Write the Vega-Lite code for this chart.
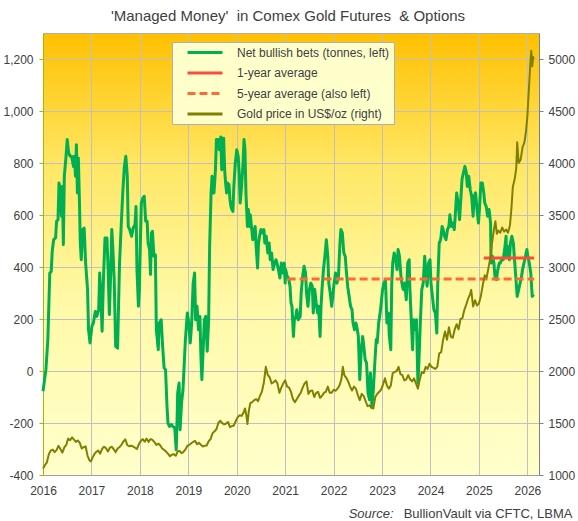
{
  "$schema": "https://vega.github.io/schema/vega-lite/v6.json",
  "width": 496,
  "height": 442,
  "autosize": {"type": "none"},
  "padding": {"left": 43, "top": 33, "right": 39, "bottom": 46},
  "title": {
    "text": "'Managed Money'\u00a0 in Comex Gold Futures\u00a0 & Options",
    "fontSize": 15,
    "fontWeight": "normal",
    "color": "#404040",
    "anchor": "middle",
    "offset": 9,
    "dx": -3
  },
  "datasets": {
    "bets": [
      {"t": 2016.00, "v": -78}, {"t": 2016.06, "v": 5}, {"t": 2016.10, "v": 121}, {"t": 2016.14, "v": 377},
      {"t": 2016.17, "v": 383}, {"t": 2016.19, "v": 460}, {"t": 2016.22, "v": 505}, {"t": 2016.26, "v": 512},
      {"t": 2016.28, "v": 576}, {"t": 2016.31, "v": 582}, {"t": 2016.33, "v": 723}, {"t": 2016.36, "v": 697},
      {"t": 2016.38, "v": 595}, {"t": 2016.40, "v": 710}, {"t": 2016.42, "v": 486}, {"t": 2016.44, "v": 749},
      {"t": 2016.47, "v": 813}, {"t": 2016.50, "v": 890}, {"t": 2016.53, "v": 838}, {"t": 2016.56, "v": 826},
      {"t": 2016.59, "v": 826}, {"t": 2016.63, "v": 787}, {"t": 2016.65, "v": 826}, {"t": 2016.67, "v": 749},
      {"t": 2016.69, "v": 870}, {"t": 2016.71, "v": 685}, {"t": 2016.73, "v": 819}, {"t": 2016.75, "v": 672},
      {"t": 2016.77, "v": 492}, {"t": 2016.79, "v": 428}, {"t": 2016.82, "v": 544}, {"t": 2016.85, "v": 550},
      {"t": 2016.88, "v": 415}, {"t": 2016.92, "v": 313}, {"t": 2016.94, "v": 159}, {"t": 2016.97, "v": 108},
      {"t": 2017.01, "v": 172}, {"t": 2017.04, "v": 185}, {"t": 2017.08, "v": 229}, {"t": 2017.11, "v": 210},
      {"t": 2017.15, "v": 236}, {"t": 2017.17, "v": 377}, {"t": 2017.19, "v": 313}, {"t": 2017.22, "v": 153},
      {"t": 2017.25, "v": 364}, {"t": 2017.28, "v": 512}, {"t": 2017.32, "v": 512}, {"t": 2017.34, "v": 415},
      {"t": 2017.37, "v": 217}, {"t": 2017.40, "v": 390}, {"t": 2017.42, "v": 544}, {"t": 2017.44, "v": 479},
      {"t": 2017.47, "v": 351}, {"t": 2017.50, "v": 95}, {"t": 2017.54, "v": 88}, {"t": 2017.58, "v": 415},
      {"t": 2017.62, "v": 582}, {"t": 2017.65, "v": 697}, {"t": 2017.68, "v": 787}, {"t": 2017.71, "v": 826},
      {"t": 2017.74, "v": 749}, {"t": 2017.76, "v": 556}, {"t": 2017.79, "v": 544}, {"t": 2017.83, "v": 518},
      {"t": 2017.86, "v": 550}, {"t": 2017.90, "v": 563}, {"t": 2017.92, "v": 633}, {"t": 2017.94, "v": 390},
      {"t": 2017.97, "v": 249}, {"t": 2017.99, "v": 313}, {"t": 2018.01, "v": 492}, {"t": 2018.03, "v": 646},
      {"t": 2018.06, "v": 665}, {"t": 2018.09, "v": 672}, {"t": 2018.12, "v": 576}, {"t": 2018.15, "v": 576},
      {"t": 2018.17, "v": 492}, {"t": 2018.20, "v": 467}, {"t": 2018.22, "v": 371}, {"t": 2018.24, "v": 531},
      {"t": 2018.26, "v": 537}, {"t": 2018.29, "v": 441}, {"t": 2018.32, "v": 447}, {"t": 2018.34, "v": 159},
      {"t": 2018.38, "v": 82}, {"t": 2018.40, "v": 185}, {"t": 2018.44, "v": 197}, {"t": 2018.47, "v": 95},
      {"t": 2018.50, "v": 12}, {"t": 2018.53, "v": 5}, {"t": 2018.56, "v": -136}, {"t": 2018.58, "v": -200},
      {"t": 2018.61, "v": -213}, {"t": 2018.65, "v": -206}, {"t": 2018.68, "v": -213}, {"t": 2018.72, "v": -219},
      {"t": 2018.75, "v": -303}, {"t": 2018.77, "v": -174}, {"t": 2018.78, "v": -85}, {"t": 2018.81, "v": -46},
      {"t": 2018.83, "v": -226}, {"t": 2018.86, "v": -123}, {"t": 2018.89, "v": -72}, {"t": 2018.91, "v": 5},
      {"t": 2018.94, "v": 121}, {"t": 2018.98, "v": 223}, {"t": 2019.01, "v": 185}, {"t": 2019.04, "v": 108},
      {"t": 2019.07, "v": 185}, {"t": 2019.10, "v": 338}, {"t": 2019.13, "v": 377}, {"t": 2019.15, "v": 197},
      {"t": 2019.18, "v": 249}, {"t": 2019.21, "v": 159}, {"t": 2019.24, "v": 210}, {"t": 2019.26, "v": 56},
      {"t": 2019.28, "v": -33}, {"t": 2019.31, "v": 95}, {"t": 2019.33, "v": 197}, {"t": 2019.36, "v": 210},
      {"t": 2019.39, "v": 76}, {"t": 2019.42, "v": 197}, {"t": 2019.44, "v": 479}, {"t": 2019.47, "v": 685},
      {"t": 2019.49, "v": 749}, {"t": 2019.51, "v": 685}, {"t": 2019.53, "v": 685}, {"t": 2019.56, "v": 774},
      {"t": 2019.58, "v": 890}, {"t": 2019.62, "v": 890}, {"t": 2019.64, "v": 851}, {"t": 2019.67, "v": 900},
      {"t": 2019.69, "v": 774}, {"t": 2019.71, "v": 895}, {"t": 2019.73, "v": 895}, {"t": 2019.75, "v": 774},
      {"t": 2019.77, "v": 723}, {"t": 2019.79, "v": 685}, {"t": 2019.81, "v": 723}, {"t": 2019.84, "v": 717},
      {"t": 2019.86, "v": 659}, {"t": 2019.88, "v": 633}, {"t": 2019.90, "v": 621}, {"t": 2019.92, "v": 614},
      {"t": 2019.94, "v": 710}, {"t": 2019.97, "v": 800}, {"t": 2020.00, "v": 851}, {"t": 2020.03, "v": 826},
      {"t": 2020.05, "v": 762}, {"t": 2020.07, "v": 646}, {"t": 2020.10, "v": 710}, {"t": 2020.13, "v": 800},
      {"t": 2020.15, "v": 890}, {"t": 2020.17, "v": 851}, {"t": 2020.19, "v": 685}, {"t": 2020.22, "v": 556},
      {"t": 2020.24, "v": 621}, {"t": 2020.26, "v": 556}, {"t": 2020.28, "v": 601}, {"t": 2020.31, "v": 544},
      {"t": 2020.33, "v": 505}, {"t": 2020.35, "v": 531}, {"t": 2020.38, "v": 556}, {"t": 2020.40, "v": 479},
      {"t": 2020.43, "v": 396}, {"t": 2020.45, "v": 492}, {"t": 2020.47, "v": 518}, {"t": 2020.50, "v": 544},
      {"t": 2020.53, "v": 531}, {"t": 2020.56, "v": 544}, {"t": 2020.58, "v": 492}, {"t": 2020.61, "v": 518},
      {"t": 2020.64, "v": 454}, {"t": 2020.67, "v": 492}, {"t": 2020.69, "v": 428}, {"t": 2020.72, "v": 454},
      {"t": 2020.75, "v": 390}, {"t": 2020.78, "v": 415}, {"t": 2020.81, "v": 428}, {"t": 2020.83, "v": 415},
      {"t": 2020.86, "v": 390}, {"t": 2020.89, "v": 358}, {"t": 2020.92, "v": 415}, {"t": 2020.94, "v": 377},
      {"t": 2020.98, "v": 415}, {"t": 2021.00, "v": 338}, {"t": 2021.01, "v": 390}, {"t": 2021.04, "v": 364},
      {"t": 2021.07, "v": 358}, {"t": 2021.10, "v": 326}, {"t": 2021.12, "v": 262}, {"t": 2021.14, "v": 249},
      {"t": 2021.17, "v": 133}, {"t": 2021.19, "v": 197}, {"t": 2021.22, "v": 210}, {"t": 2021.24, "v": 236},
      {"t": 2021.27, "v": 197}, {"t": 2021.31, "v": 210}, {"t": 2021.33, "v": 300}, {"t": 2021.36, "v": 364},
      {"t": 2021.39, "v": 403}, {"t": 2021.42, "v": 377}, {"t": 2021.44, "v": 300}, {"t": 2021.47, "v": 249},
      {"t": 2021.50, "v": 313}, {"t": 2021.53, "v": 338}, {"t": 2021.56, "v": 326}, {"t": 2021.58, "v": 223},
      {"t": 2021.61, "v": 313}, {"t": 2021.64, "v": 262}, {"t": 2021.67, "v": 223}, {"t": 2021.69, "v": 249},
      {"t": 2021.72, "v": 133}, {"t": 2021.74, "v": 249}, {"t": 2021.76, "v": 313}, {"t": 2021.79, "v": 390},
      {"t": 2021.82, "v": 441}, {"t": 2021.85, "v": 505}, {"t": 2021.88, "v": 441}, {"t": 2021.90, "v": 338},
      {"t": 2021.93, "v": 300}, {"t": 2021.96, "v": 249}, {"t": 2021.99, "v": 300}, {"t": 2022.01, "v": 338},
      {"t": 2022.04, "v": 377}, {"t": 2022.07, "v": 338}, {"t": 2022.10, "v": 364}, {"t": 2022.13, "v": 492},
      {"t": 2022.15, "v": 544}, {"t": 2022.18, "v": 531}, {"t": 2022.21, "v": 454}, {"t": 2022.24, "v": 441},
      {"t": 2022.26, "v": 390}, {"t": 2022.29, "v": 326}, {"t": 2022.32, "v": 287}, {"t": 2022.35, "v": 249},
      {"t": 2022.38, "v": 236}, {"t": 2022.40, "v": 185}, {"t": 2022.43, "v": 159}, {"t": 2022.46, "v": 185},
      {"t": 2022.49, "v": 159}, {"t": 2022.51, "v": 133}, {"t": 2022.54, "v": -33}, {"t": 2022.57, "v": 82},
      {"t": 2022.60, "v": 133}, {"t": 2022.63, "v": 82}, {"t": 2022.65, "v": 44}, {"t": 2022.68, "v": 31},
      {"t": 2022.71, "v": -85}, {"t": 2022.74, "v": -110}, {"t": 2022.76, "v": -8}, {"t": 2022.79, "v": -136},
      {"t": 2022.82, "v": -72}, {"t": 2022.85, "v": 31}, {"t": 2022.88, "v": 121}, {"t": 2022.90, "v": 108},
      {"t": 2022.93, "v": 185}, {"t": 2022.96, "v": 223}, {"t": 2022.99, "v": 274}, {"t": 2023.01, "v": 313},
      {"t": 2023.04, "v": 338}, {"t": 2023.07, "v": 351}, {"t": 2023.10, "v": 185}, {"t": 2023.13, "v": 223},
      {"t": 2023.15, "v": 133}, {"t": 2023.18, "v": 82}, {"t": 2023.20, "v": 338}, {"t": 2023.22, "v": 415},
      {"t": 2023.25, "v": 454}, {"t": 2023.28, "v": 428}, {"t": 2023.31, "v": 390}, {"t": 2023.33, "v": 467},
      {"t": 2023.36, "v": 441}, {"t": 2023.39, "v": 364}, {"t": 2023.42, "v": 326}, {"t": 2023.44, "v": 313},
      {"t": 2023.47, "v": 338}, {"t": 2023.50, "v": 274}, {"t": 2023.53, "v": 415}, {"t": 2023.56, "v": 428},
      {"t": 2023.57, "v": 338}, {"t": 2023.60, "v": 210}, {"t": 2023.63, "v": 82}, {"t": 2023.65, "v": 197},
      {"t": 2023.68, "v": 159}, {"t": 2023.71, "v": 197}, {"t": 2023.74, "v": -46}, {"t": 2023.76, "v": 31},
      {"t": 2023.79, "v": 185}, {"t": 2023.82, "v": 313}, {"t": 2023.85, "v": 338}, {"t": 2023.88, "v": 441},
      {"t": 2023.90, "v": 390}, {"t": 2023.93, "v": 326}, {"t": 2023.96, "v": 415}, {"t": 2023.99, "v": 428},
      {"t": 2024.01, "v": 338}, {"t": 2024.04, "v": 287}, {"t": 2024.07, "v": 236}, {"t": 2024.10, "v": 223},
      {"t": 2024.13, "v": 146}, {"t": 2024.15, "v": 338}, {"t": 2024.18, "v": 492}, {"t": 2024.21, "v": 505},
      {"t": 2024.24, "v": 556}, {"t": 2024.26, "v": 544}, {"t": 2024.29, "v": 518}, {"t": 2024.32, "v": 505},
      {"t": 2024.35, "v": 544}, {"t": 2024.38, "v": 556}, {"t": 2024.40, "v": 601}, {"t": 2024.43, "v": 556},
      {"t": 2024.46, "v": 569}, {"t": 2024.49, "v": 544}, {"t": 2024.51, "v": 595}, {"t": 2024.54, "v": 685},
      {"t": 2024.57, "v": 646}, {"t": 2024.60, "v": 582}, {"t": 2024.63, "v": 672}, {"t": 2024.65, "v": 736},
      {"t": 2024.68, "v": 762}, {"t": 2024.71, "v": 787}, {"t": 2024.74, "v": 762}, {"t": 2024.76, "v": 710},
      {"t": 2024.79, "v": 749}, {"t": 2024.82, "v": 697}, {"t": 2024.85, "v": 672}, {"t": 2024.88, "v": 595},
      {"t": 2024.90, "v": 672}, {"t": 2024.93, "v": 685}, {"t": 2024.96, "v": 621}, {"t": 2024.99, "v": 569},
      {"t": 2025.01, "v": 621}, {"t": 2025.04, "v": 723}, {"t": 2025.07, "v": 723}, {"t": 2025.10, "v": 685},
      {"t": 2025.12, "v": 646}, {"t": 2025.15, "v": 633}, {"t": 2025.18, "v": 595}, {"t": 2025.21, "v": 621},
      {"t": 2025.24, "v": 569}, {"t": 2025.25, "v": 415}, {"t": 2025.28, "v": 441}, {"t": 2025.31, "v": 415},
      {"t": 2025.33, "v": 364}, {"t": 2025.36, "v": 351}, {"t": 2025.39, "v": 390}, {"t": 2025.42, "v": 415},
      {"t": 2025.44, "v": 415}, {"t": 2025.47, "v": 428}, {"t": 2025.50, "v": 428}, {"t": 2025.53, "v": 467},
      {"t": 2025.56, "v": 518}, {"t": 2025.57, "v": 441}, {"t": 2025.60, "v": 479}, {"t": 2025.63, "v": 428},
      {"t": 2025.65, "v": 492}, {"t": 2025.68, "v": 518}, {"t": 2025.71, "v": 492}, {"t": 2025.74, "v": 415},
      {"t": 2025.76, "v": 364}, {"t": 2025.79, "v": 287}, {"t": 2025.82, "v": 313}, {"t": 2025.85, "v": 338},
      {"t": 2025.88, "v": 364}, {"t": 2025.90, "v": 390}, {"t": 2025.93, "v": 415}, {"t": 2025.96, "v": 441},
      {"t": 2025.99, "v": 467}, {"t": 2026.01, "v": 441}, {"t": 2026.04, "v": 415}, {"t": 2026.07, "v": 377},
      {"t": 2026.10, "v": 287}, {"t": 2026.13, "v": 294}
    ],
    "gold": [
      {"t": 2016.00, "p": 1062}, {"t": 2016.04, "p": 1095}, {"t": 2016.08, "p": 1120}, {"t": 2016.12, "p": 1200},
      {"t": 2016.16, "p": 1235}, {"t": 2016.20, "p": 1245}, {"t": 2016.24, "p": 1220}, {"t": 2016.28, "p": 1240},
      {"t": 2016.32, "p": 1280}, {"t": 2016.36, "p": 1250}, {"t": 2016.40, "p": 1215}, {"t": 2016.44, "p": 1265},
      {"t": 2016.48, "p": 1290}, {"t": 2016.52, "p": 1350}, {"t": 2016.56, "p": 1335}, {"t": 2016.60, "p": 1362},
      {"t": 2016.64, "p": 1340}, {"t": 2016.68, "p": 1318}, {"t": 2016.72, "p": 1332}, {"t": 2016.76, "p": 1308},
      {"t": 2016.80, "p": 1255}, {"t": 2016.84, "p": 1268}, {"t": 2016.88, "p": 1275}, {"t": 2016.92, "p": 1185},
      {"t": 2016.96, "p": 1140}, {"t": 2016.99, "p": 1130}, {"t": 2017.02, "p": 1165}, {"t": 2017.06, "p": 1200},
      {"t": 2017.10, "p": 1222}, {"t": 2017.14, "p": 1236}, {"t": 2017.18, "p": 1205}, {"t": 2017.22, "p": 1250},
      {"t": 2017.26, "p": 1272}, {"t": 2017.30, "p": 1258}, {"t": 2017.34, "p": 1226}, {"t": 2017.38, "p": 1262},
      {"t": 2017.42, "p": 1272}, {"t": 2017.46, "p": 1248}, {"t": 2017.50, "p": 1220}, {"t": 2017.54, "p": 1255},
      {"t": 2017.58, "p": 1268}, {"t": 2017.62, "p": 1290}, {"t": 2017.66, "p": 1322}, {"t": 2017.70, "p": 1342},
      {"t": 2017.74, "p": 1288}, {"t": 2017.78, "p": 1276}, {"t": 2017.82, "p": 1282}, {"t": 2017.86, "p": 1274},
      {"t": 2017.90, "p": 1262}, {"t": 2017.94, "p": 1250}, {"t": 2017.98, "p": 1298}, {"t": 2018.02, "p": 1328},
      {"t": 2018.06, "p": 1345}, {"t": 2018.10, "p": 1320}, {"t": 2018.14, "p": 1350}, {"t": 2018.18, "p": 1318},
      {"t": 2018.22, "p": 1345}, {"t": 2018.26, "p": 1338}, {"t": 2018.30, "p": 1316}, {"t": 2018.34, "p": 1290},
      {"t": 2018.38, "p": 1302}, {"t": 2018.42, "p": 1285}, {"t": 2018.46, "p": 1255}, {"t": 2018.50, "p": 1242},
      {"t": 2018.54, "p": 1225}, {"t": 2018.58, "p": 1205}, {"t": 2018.62, "p": 1180}, {"t": 2018.66, "p": 1195},
      {"t": 2018.70, "p": 1200}, {"t": 2018.74, "p": 1185}, {"t": 2018.78, "p": 1226}, {"t": 2018.82, "p": 1232},
      {"t": 2018.86, "p": 1210}, {"t": 2018.90, "p": 1222}, {"t": 2018.94, "p": 1246}, {"t": 2018.98, "p": 1280},
      {"t": 2019.02, "p": 1290}, {"t": 2019.06, "p": 1305}, {"t": 2019.10, "p": 1318}, {"t": 2019.14, "p": 1328},
      {"t": 2019.18, "p": 1295}, {"t": 2019.22, "p": 1310}, {"t": 2019.26, "p": 1290}, {"t": 2019.30, "p": 1274},
      {"t": 2019.34, "p": 1282}, {"t": 2019.38, "p": 1284}, {"t": 2019.42, "p": 1325}, {"t": 2019.46, "p": 1345},
      {"t": 2019.50, "p": 1402}, {"t": 2019.54, "p": 1420}, {"t": 2019.58, "p": 1440}, {"t": 2019.62, "p": 1500},
      {"t": 2019.66, "p": 1522}, {"t": 2019.70, "p": 1500}, {"t": 2019.74, "p": 1486}, {"t": 2019.78, "p": 1494},
      {"t": 2019.82, "p": 1510}, {"t": 2019.86, "p": 1460}, {"t": 2019.90, "p": 1470}, {"t": 2019.94, "p": 1476},
      {"t": 2019.98, "p": 1520}, {"t": 2020.02, "p": 1555}, {"t": 2020.06, "p": 1575}, {"t": 2020.10, "p": 1568},
      {"t": 2020.14, "p": 1600}, {"t": 2020.17, "p": 1640}, {"t": 2020.20, "p": 1570}, {"t": 2020.22, "p": 1490},
      {"t": 2020.25, "p": 1620}, {"t": 2020.28, "p": 1690}, {"t": 2020.32, "p": 1702}, {"t": 2020.36, "p": 1720},
      {"t": 2020.40, "p": 1730}, {"t": 2020.44, "p": 1710}, {"t": 2020.48, "p": 1762}, {"t": 2020.52, "p": 1802},
      {"t": 2020.56, "p": 1890}, {"t": 2020.60, "p": 2040}, {"t": 2020.64, "p": 1962}, {"t": 2020.68, "p": 1940},
      {"t": 2020.72, "p": 1880}, {"t": 2020.76, "p": 1892}, {"t": 2020.80, "p": 1910}, {"t": 2020.84, "p": 1880},
      {"t": 2020.88, "p": 1790}, {"t": 2020.92, "p": 1840}, {"t": 2020.96, "p": 1880}, {"t": 2021.00, "p": 1910},
      {"t": 2021.04, "p": 1850}, {"t": 2021.08, "p": 1840}, {"t": 2021.12, "p": 1800}, {"t": 2021.16, "p": 1730},
      {"t": 2021.20, "p": 1700}, {"t": 2021.24, "p": 1730}, {"t": 2021.28, "p": 1762}, {"t": 2021.32, "p": 1790},
      {"t": 2021.36, "p": 1840}, {"t": 2021.40, "p": 1880}, {"t": 2021.44, "p": 1900}, {"t": 2021.48, "p": 1780},
      {"t": 2021.52, "p": 1810}, {"t": 2021.56, "p": 1812}, {"t": 2021.60, "p": 1750}, {"t": 2021.64, "p": 1790},
      {"t": 2021.68, "p": 1800}, {"t": 2021.72, "p": 1742}, {"t": 2021.76, "p": 1760}, {"t": 2021.80, "p": 1790},
      {"t": 2021.84, "p": 1800}, {"t": 2021.88, "p": 1850}, {"t": 2021.92, "p": 1790}, {"t": 2021.96, "p": 1792},
      {"t": 2022.00, "p": 1820}, {"t": 2022.04, "p": 1810}, {"t": 2022.08, "p": 1830}, {"t": 2022.12, "p": 1860},
      {"t": 2022.16, "p": 1920}, {"t": 2022.19, "p": 2040}, {"t": 2022.22, "p": 1960}, {"t": 2022.26, "p": 1935},
      {"t": 2022.30, "p": 1900}, {"t": 2022.34, "p": 1850}, {"t": 2022.38, "p": 1812}, {"t": 2022.42, "p": 1850},
      {"t": 2022.46, "p": 1830}, {"t": 2022.50, "p": 1770}, {"t": 2022.54, "p": 1720}, {"t": 2022.58, "p": 1780},
      {"t": 2022.62, "p": 1760}, {"t": 2022.66, "p": 1710}, {"t": 2022.70, "p": 1662}, {"t": 2022.74, "p": 1670},
      {"t": 2022.78, "p": 1645}, {"t": 2022.82, "p": 1640}, {"t": 2022.86, "p": 1750}, {"t": 2022.90, "p": 1780},
      {"t": 2022.94, "p": 1800}, {"t": 2022.98, "p": 1820}, {"t": 2023.02, "p": 1870}, {"t": 2023.06, "p": 1930},
      {"t": 2023.10, "p": 1860}, {"t": 2023.14, "p": 1830}, {"t": 2023.18, "p": 1860}, {"t": 2023.22, "p": 1980},
      {"t": 2023.26, "p": 1990}, {"t": 2023.30, "p": 2000}, {"t": 2023.34, "p": 2040}, {"t": 2023.38, "p": 1970},
      {"t": 2023.42, "p": 1960}, {"t": 2023.46, "p": 1910}, {"t": 2023.50, "p": 1920}, {"t": 2023.54, "p": 1960},
      {"t": 2023.58, "p": 1920}, {"t": 2023.62, "p": 1900}, {"t": 2023.66, "p": 1930}, {"t": 2023.70, "p": 1880},
      {"t": 2023.74, "p": 1830}, {"t": 2023.78, "p": 1920}, {"t": 2023.82, "p": 1990}, {"t": 2023.86, "p": 1980},
      {"t": 2023.90, "p": 2040}, {"t": 2023.94, "p": 2020}, {"t": 2023.98, "p": 2070}, {"t": 2024.02, "p": 2040},
      {"t": 2024.06, "p": 2030}, {"t": 2024.10, "p": 2020}, {"t": 2024.14, "p": 2040}, {"t": 2024.18, "p": 2170},
      {"t": 2024.22, "p": 2180}, {"t": 2024.26, "p": 2300}, {"t": 2024.30, "p": 2380}, {"t": 2024.34, "p": 2300},
      {"t": 2024.38, "p": 2420}, {"t": 2024.42, "p": 2330}, {"t": 2024.46, "p": 2320}, {"t": 2024.50, "p": 2400},
      {"t": 2024.54, "p": 2450}, {"t": 2024.58, "p": 2400}, {"t": 2024.62, "p": 2500}, {"t": 2024.66, "p": 2510},
      {"t": 2024.70, "p": 2590}, {"t": 2024.74, "p": 2640}, {"t": 2024.78, "p": 2700}, {"t": 2024.82, "p": 2740},
      {"t": 2024.84, "p": 2780}, {"t": 2024.88, "p": 2620}, {"t": 2024.92, "p": 2680}, {"t": 2024.96, "p": 2630},
      {"t": 2025.00, "p": 2650}, {"t": 2025.04, "p": 2720}, {"t": 2025.08, "p": 2830}, {"t": 2025.12, "p": 2920},
      {"t": 2025.16, "p": 2900}, {"t": 2025.20, "p": 3000}, {"t": 2025.24, "p": 3100}, {"t": 2025.27, "p": 3230},
      {"t": 2025.31, "p": 3360}, {"t": 2025.34, "p": 3440}, {"t": 2025.37, "p": 3320}, {"t": 2025.40, "p": 3350},
      {"t": 2025.44, "p": 3330}, {"t": 2025.48, "p": 3380}, {"t": 2025.52, "p": 3340}, {"t": 2025.56, "p": 3360},
      {"t": 2025.60, "p": 3330}, {"t": 2025.64, "p": 3400}, {"t": 2025.67, "p": 3560}, {"t": 2025.70, "p": 3770},
      {"t": 2025.74, "p": 3850}, {"t": 2025.77, "p": 3950}, {"t": 2025.79, "p": 4200}, {"t": 2025.82, "p": 4000},
      {"t": 2025.86, "p": 4030}, {"t": 2025.90, "p": 4150}, {"t": 2025.94, "p": 4200}, {"t": 2025.97, "p": 4300},
      {"t": 2026.00, "p": 4450}, {"t": 2026.03, "p": 4700}, {"t": 2026.06, "p": 4950}, {"t": 2026.08, "p": 5080},
      {"t": 2026.10, "p": 4930}, {"t": 2026.12, "p": 5020}, {"t": 2026.13, "p": 5000}
    ],
    "avg": [
      {"series": "1-year average", "t": 2025.10, "v": 435},
      {"series": "1-year average", "t": 2026.14, "v": 435},
      {"series": "5-year average (also left)", "t": 2021.05, "v": 354},
      {"series": "5-year average (also left)", "t": 2026.14, "v": 354}
    ]
  },
  "encoding": {
    "x": {
      "field": "t",
      "type": "quantitative",
      "scale": {"domain": [2016, 2026.24], "nice": false, "zero": false},
      "axis": {
        "values": [2016, 2017, 2018, 2019, 2020, 2021, 2022, 2023, 2024, 2025, 2026],
        "format": "d",
        "grid": true,
        "ticks": false,
        "labelFlush": false,
        "labelOverlap": false,
        "domainColor": "#A0A0A0",
        "labelPadding": 10,
        "title": "BullionVault via CFTC, LBMA",
        "titleX": 529,
        "titleY": 38,
        "titleAlign": "right",
        "titleAnchor": "end",
        "titleBaseline": "middle",
        "titleFontSize": 13,
        "titleFontWeight": "normal",
        "titleColor": "#404040"
      }
    }
  },
  "layer": [
    {
      "encoding": {
        "y": {
          "field": "v",
          "type": "quantitative",
          "scale": {"domain": [-400, 1300], "nice": false, "zero": false},
          "axis": {
            "values": [-400, -200, 0, 200, 400, 600, 800, 1000, 1200],
            "labelExpr": "datum.value < 0 ? '-' + format(-datum.value, ',') : format(datum.value, ',')",
            "grid": true,
            "domainColor": "#99C000",
            "tickColor": "#99C000",
            "tickSize": 4,
            "labelPadding": 6,
            "title": null
          }
        }
      },
      "layer": [
        {
          "data": {"name": "bets"},
          "mark": {"type": "line", "strokeWidth": 3, "strokeJoin": "round"},
          "encoding": {
            "color": {
              "datum": "Net bullish bets (tonnes, left)",
              "type": "nominal",
              "scale": {
                "domain": ["Net bullish bets (tonnes, left)", "1-year average", "5-year average (also left)", "Gold price in US$/oz (right)"],
                "range": ["#00B050", "#FF4B3A", "#FF6A33", "#808000"]
              },
              "legend": {"title": null, "symbolType": "M-1,0H6", "symbolSize": 100, "symbolStrokeWidth": 3}
            },
            "strokeDash": {
              "datum": "Net bullish bets (tonnes, left)",
              "type": "nominal",
              "scale": {
                "domain": ["Net bullish bets (tonnes, left)", "1-year average", "5-year average (also left)", "Gold price in US$/oz (right)"],
                "range": [[1, 0], [1, 0], [8, 4], [1, 0]]
              },
              "legend": {"title": null, "symbolType": "M-1,0H6", "symbolSize": 100, "symbolStrokeWidth": 3}
            }
          }
        },
        {
          "data": {"name": "avg"},
          "mark": {"type": "line", "strokeWidth": 3},
          "encoding": {
            "color": {
              "field": "series",
              "type": "nominal",
              "scale": {
                "domain": ["Net bullish bets (tonnes, left)", "1-year average", "5-year average (also left)", "Gold price in US$/oz (right)"],
                "range": ["#00B050", "#FF4B3A", "#FF6A33", "#808000"]
              },
              "legend": {"title": null, "symbolType": "M-1,0H6", "symbolSize": 100, "symbolStrokeWidth": 3}
            },
            "strokeDash": {
              "field": "series",
              "type": "nominal",
              "scale": {
                "domain": ["Net bullish bets (tonnes, left)", "1-year average", "5-year average (also left)", "Gold price in US$/oz (right)"],
                "range": [[1, 0], [1, 0], [8, 4], [1, 0]]
              },
              "legend": {"title": null, "symbolType": "M-1,0H6", "symbolSize": 100, "symbolStrokeWidth": 3}
            }
          }
        }
      ]
    },
    {
      "data": {"name": "gold"},
      "mark": {"type": "line", "strokeWidth": 2, "strokeJoin": "round"},
      "encoding": {
        "y": {
          "field": "p",
          "type": "quantitative",
          "scale": {"domain": [1000, 5250], "nice": false, "zero": false},
          "axis": {
            "orient": "right",
            "values": [1000, 1500, 2000, 2500, 3000, 3500, 4000, 4500, 5000],
            "format": "d",
            "grid": false,
            "domainColor": "#808080",
            "tickColor": "#808080",
            "tickSize": 4,
            "labelPadding": 5,
            "title": "Source:",
            "titleAngle": 0,
            "titleX": -146,
            "titleY": 480,
            "titleAlign": "right",
            "titleBaseline": "middle",
            "titleFontStyle": "italic",
            "titleFontWeight": "normal",
            "titleFontSize": 13,
            "titleColor": "#404040"
          }
        },
        "color": {
          "datum": "Gold price in US$/oz (right)",
          "type": "nominal",
          "scale": {
            "domain": ["Net bullish bets (tonnes, left)", "1-year average", "5-year average (also left)", "Gold price in US$/oz (right)"],
            "range": ["#00B050", "#FF4B3A", "#FF6A33", "#808000"]
          },
          "legend": {"title": null, "symbolType": "M-1,0H6", "symbolSize": 100, "symbolStrokeWidth": 3}
        },
        "strokeDash": {
          "datum": "Gold price in US$/oz (right)",
          "type": "nominal",
          "scale": {
            "domain": ["Net bullish bets (tonnes, left)", "1-year average", "5-year average (also left)", "Gold price in US$/oz (right)"],
            "range": [[1, 0], [1, 0], [8, 4], [1, 0]]
          },
          "legend": {"title": null, "symbolType": "M-1,0H6", "symbolSize": 100, "symbolStrokeWidth": 3}
        }
      }
    }
  ],
  "resolve": {"scale": {"y": "independent"}},
  "config": {
    "font": "Liberation Sans",
    "background": "white",
    "view": {
      "stroke": "#B0B0B0",
      "fill": {
        "gradient": "linear",
        "x1": 0, "y1": 0, "x2": 0, "y2": 1,
        "stops": [
          {"offset": 0, "color": "#FFC000"},
          {"offset": 0.3, "color": "#FFE766"},
          {"offset": 0.6, "color": "#FFF9A6"},
          {"offset": 1, "color": "#FFFFCC"}
        ]
      }
    },
    "axis": {
      "labelFont": "Liberation Sans",
      "labelFontSize": 12,
      "labelColor": "#404040",
      "gridColor": "#C0C0C0",
      "gridWidth": 1,
      "titleFont": "Liberation Sans"
    },
    "legend": {
      "orient": "none",
      "legendX": 129,
      "legendY": 9,
      "fillColor": "#FFFFCC",
      "strokeColor": "#B0B0B0",
      "padding": 4,
      "rowPadding": 7.5,
      "symbolOffset": 10,
      "labelOffset": 38,
      "labelExpr": "datum.label + '\u00a0\u00a0\u00a0'",
      "labelFont": "Liberation Sans",
      "labelFontSize": 12,
      "labelColor": "#404040",
      "labelLimit": 300
    }
  }
}
